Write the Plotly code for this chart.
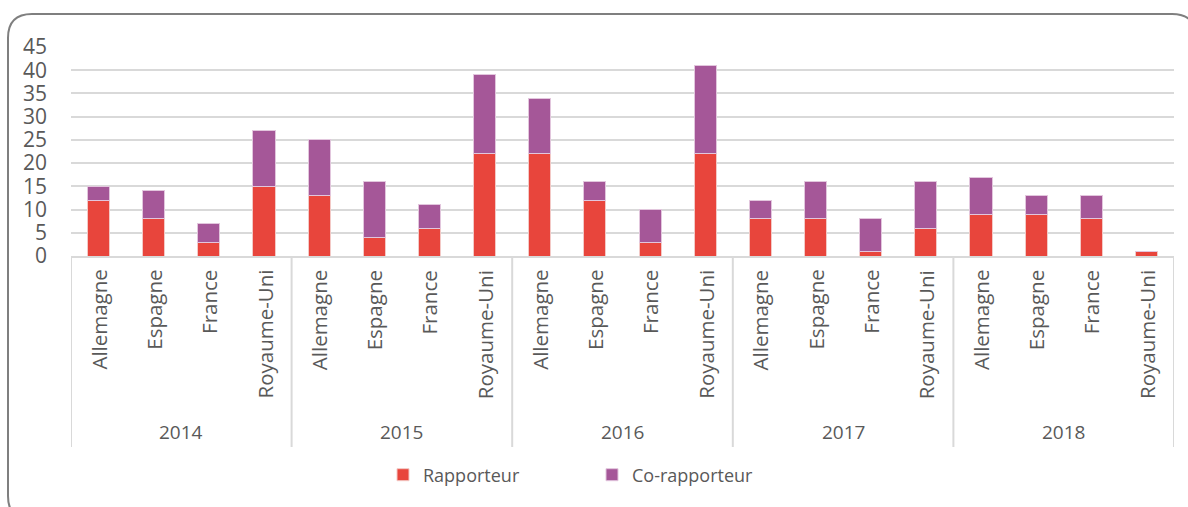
import plotly.graph_objects as go

years = ["2014", "2015", "2016", "2017", "2018"]
countries = ["Allemagne", "Espagne", "France", "Royaume-Uni"]
rapporteur = [12, 8, 3, 15, 13, 4, 6, 22, 22, 12, 3, 22, 8, 8, 1, 6, 9, 9, 8, 1]
co_rapporteur = [3, 6, 4, 12, 12, 12, 5, 17, 12, 4, 7, 19, 4, 8, 7, 10, 8, 4, 5, 0]

RED = "#E8453C"
PURPLE = "#A55798"
TXT = "#595959"
GRID = "#D9D9D9"
FONT = "Open Sans"

W, H = 1188, 507
L, R, T, B = 71, 14, 47, 251
PW = W - L - R
PH = H - T - B

def px(x):
    return (x - L) / PW

def py(y):
    return (H - B - y) / PH

n = len(years) * len(countries)
xs = list(range(n))

fig = go.Figure()
fig.add_trace(go.Bar(x=xs, y=rapporteur, name="Rapporteur", legend="legend", showlegend=True,
                     marker=dict(color=RED, line=dict(color="#F3C9C6", width=1)), width=0.4))
fig.add_trace(go.Bar(x=xs, y=co_rapporteur, name="Co-rapporteur", legend="legend2", showlegend=True,
                     marker=dict(color=PURPLE, line=dict(color="#E2C6DD", width=1)), width=0.4))

annotations = []
for i in xs:
    annotations.append(dict(x=i, xref="x", y=0, yref="paper", text=countries[i % len(countries)],
                            textangle=-90, showarrow=False, yanchor="top", xanchor="center", yshift=-12,
                            font=dict(family=FONT, size=20.5, color=TXT)))
for g, yr in enumerate(years):
    annotations.append(dict(x=g * len(countries) + (len(countries) - 1) / 2, xref="x", y=py(432), yref="paper",
                            text=yr, showarrow=False, yanchor="middle", xanchor="center",
                            font=dict(family=FONT, size=19, color=TXT)))

shapes = []
for g in range(len(years) + 1):
    xv = g * len(countries) - 0.5
    shapes.append(dict(type="line", xref="x", yref="paper", x0=xv, x1=xv, y0=0, y1=py(447),
                       line=dict(color=GRID, width=2)))
shapes.append(dict(type="line", xref="paper", yref="paper", x0=0, x1=1, y0=py(257), y1=py(257),
                   line=dict(color=GRID, width=2)))

# rounded frame
x0, x1, y0, y1, r = 8, 1196, 14, 520, 24
path = (f"M {px(x0)},{py(y0 + r)} Q {px(x0)},{py(y0)} {px(x0 + r)},{py(y0)} "
        f"L {px(x1 - r)},{py(y0)} Q {px(x1)},{py(y0)} {px(x1)},{py(y0 + r)} "
        f"L {px(x1)},{py(y1 - r)} Q {px(x1)},{py(y1)} {px(x1 - r)},{py(y1)} "
        f"L {px(x0 + r)},{py(y1)} Q {px(x0)},{py(y1)} {px(x0)},{py(y1 - r)} Z")
shapes.append(dict(type="path", xref="paper", yref="paper", path=path, line=dict(color="#7F7F7F", width=2)))

legfont = dict(family=FONT, size=18, color=TXT)
fig.update_layout(
    width=W, height=H, barmode="stack", showlegend=True,
    margin=dict(l=L, r=R, t=T, b=B),
    paper_bgcolor="white", plot_bgcolor="white",
    font=dict(family=FONT, color=TXT),
    xaxis=dict(range=[-0.5, n - 0.5], showticklabels=False, showgrid=False, zeroline=False, ticks=""),
    yaxis=dict(range=[0, 45], dtick=5, showgrid=True, gridcolor=GRID, gridwidth=2, zeroline=False,
               tickfont=dict(family=FONT, size=21, color=TXT), ticks="", ticklabelstandoff=23),
    legend=dict(orientation="h", x=px(383), xanchor="left", y=py(475), yanchor="middle",
                font=legfont, itemwidth=30, bgcolor="rgba(0,0,0,0)", visible=True),
    legend2=dict(orientation="h", x=px(592), xanchor="left", y=py(475), yanchor="middle",
                 font=legfont, itemwidth=30, bgcolor="rgba(0,0,0,0)", visible=True),
    annotations=annotations, shapes=shapes,
)
fig.write_html("out.html", config={"displayModeBar": False},
               post_script="document.body.style.margin='0px';")
